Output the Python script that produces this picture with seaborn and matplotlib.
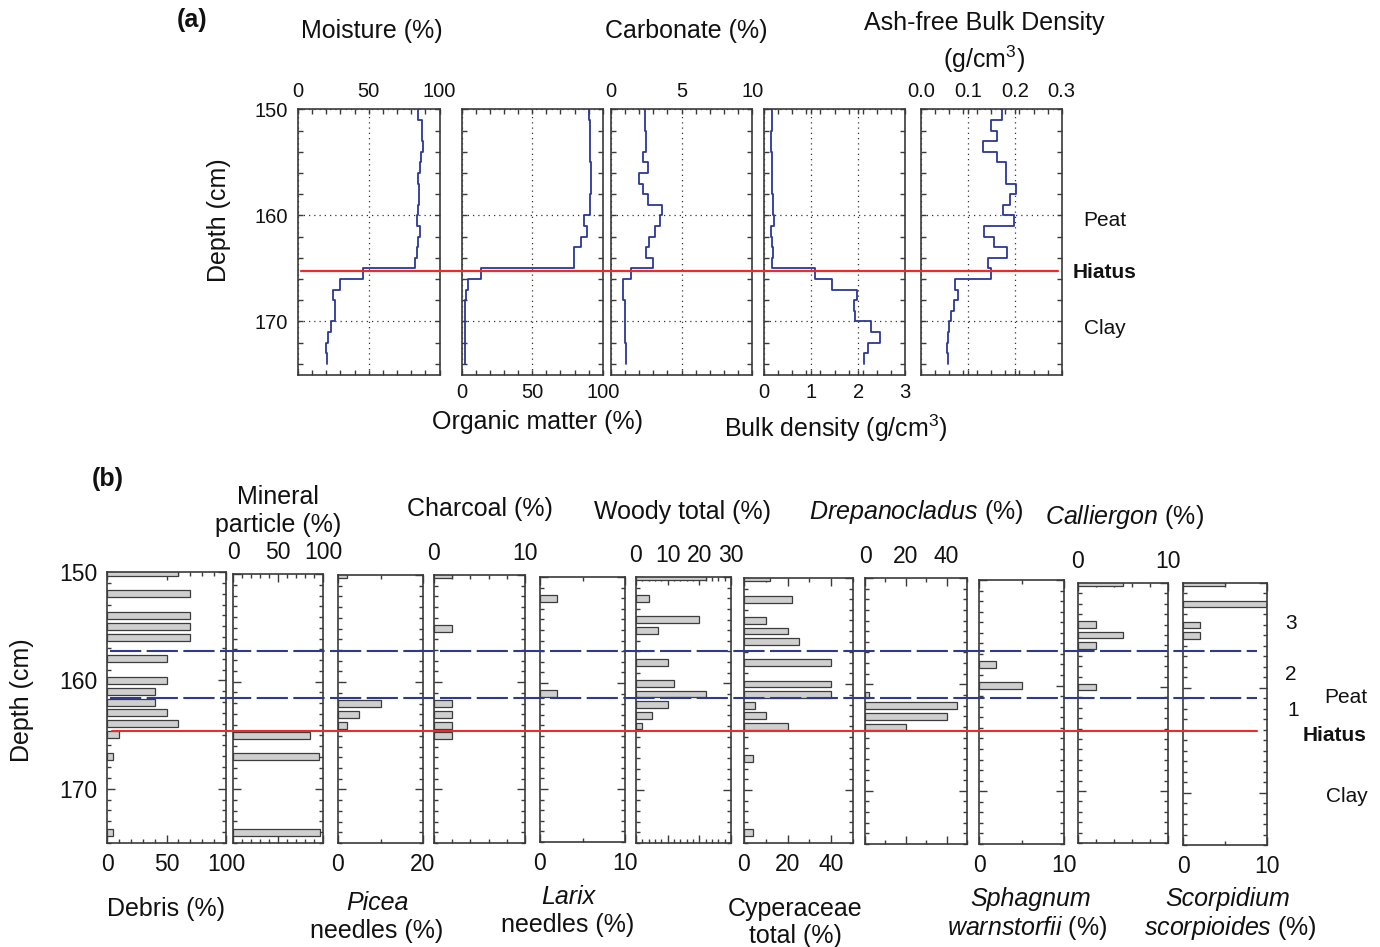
import numpy as np
import matplotlib
matplotlib.use("Agg")
import matplotlib.pyplot as plt
import seaborn as sns
from matplotlib.lines import Line2D
from matplotlib.ticker import FixedLocator, MultipleLocator, FormatStrFormatter

# ---------------- data ----------------
# (a) 1-cm slices, tops at 150..173 cm
depth_top_a = list(range(150, 174))
moisture = [85, 87.5, 87.5, 88, 87, 86.3, 85, 85.6, 85.6, 85, 84, 86.3, 84.6, 84, 82.7,
            45.6, 30, 24.8, 26.5, 26.5, 23, 21.3, 19.6, 20.6]
organic_matter = [90.3, 91, 91, 91, 91, 91.5, 91.5, 91.7, 91, 91, 87, 88.7, 84.4, 79.7, 79.7,
                  13.5, 4.7, 3, 2.4, 2.4, 2, 2, 2, 2]
carbonate = [2.4, 2.4, 2.5, 2.5, 2.3, 2.65, 2.0, 2.3, 2.6, 3.6, 3.5, 3.1, 2.7, 2.5, 3.0,
             1.4, 0.9, 0.9, 1.0, 1.0, 1.0, 1.0, 1.05, 1.1]
bulk_density = [0.18, 0.18, 0.16, 0.16, 0.17, 0.17, 0.18, 0.18, 0.2, 0.2, 0.22, 0.15, 0.17, 0.2, 0.18,
                1.09, 1.44, 1.97, 1.91, 1.93, 2.27, 2.46, 2.22, 2.12]
ash_free_bd = [0.174, 0.149, 0.162, 0.132, 0.162, 0.182, 0.182, 0.203, 0.191, 0.176, 0.199, 0.135,
               0.157, 0.183, 0.144, 0.149, 0.073, 0.080, 0.070, 0.064, 0.061, 0.059, 0.055, 0.059]
hiatus_a = 165.2

# (b) macrofossils, samples at 150..174 cm
depths_b = list(range(150, 175))
def series(d):
    return [d.get(z, 0) for z in depths_b]
debris = series({150: 60, 152: 70, 154: 70, 155: 70, 156: 70, 158: 50, 160: 50, 161: 40,
                 162: 40, 163: 50, 164: 60, 165: 10, 167: 5, 174: 5})
mineral = series({165: 85, 167: 95, 174: 97})
picea = series({150: 2, 162: 10, 163: 5, 164: 2})
charcoal = series({150: 2, 155: 2, 162: 2, 163: 2, 164: 2, 165: 2})
larix = series({152: 2, 161: 2})
woody = series({150: 22, 152: 4, 154: 20, 155: 7, 158: 10, 160: 12, 161: 22, 162: 10, 163: 5, 164: 2})
cyperaceae = series({150: 12, 152: 22, 154: 10, 155: 20, 156: 25, 158: 40, 160: 40, 161: 40,
                     162: 5, 163: 10, 164: 20, 167: 4, 174: 4})
drepanocladus = series({161: 2, 162: 45, 163: 40, 164: 20})
sphagnum = series({158: 2, 160: 5})
calliergon = series({150: 5, 154: 2, 155: 5, 156: 2, 160: 2})
scorpidium = series({150: 5, 152: 10, 154: 2, 155: 2})
zone_bounds_b = [157.3, 161.6]
hiatus_b = 164.7

# ---------------- style ----------------
sns.set_theme(style="white")
plt.rcParams["font.family"] = ["Liberation Sans", "DejaVu Sans"]
plt.rcParams["mathtext.fontset"] = "custom"
plt.rcParams["mathtext.rm"] = "Liberation Sans"
plt.rcParams["mathtext.it"] = "Liberation Sans:italic"
plt.rcParams["mathtext.bf"] = "Liberation Sans:bold"
plt.rcParams["text.color"] = "#111111"
plt.rcParams["xtick.labelcolor"] = "#111111"
plt.rcParams["ytick.labelcolor"] = "#111111"

LINE = "#2B3896"
RED = "#EE2B2B"
DASH = "#2E3A8F"
SPINE = "#3a3a3a"
BARC = "#CFCFCF"
BARE = "#3c3c3c"

W, H = 1380, 947
fig = plt.figure(figsize=(W / 100, H / 100), dpi=100)
fig.patch.set_facecolor("white")


def add_ax(x0, x1, y0, y1):
    return fig.add_axes([x0 / W, 1 - y1 / H, (x1 - x0) / W, (y1 - y0) / H])


def ftext(x, y, s, size=18, ha="center", va="center", **kw):
    fig.text(x / W, 1 - y / H, s, ha=ha, va=va, fontsize=size, **kw)


def frame(ax):
    ax.set_facecolor("white")
    for sp in ax.spines.values():
        sp.set_visible(True)
        sp.set_color(SPINE)
        sp.set_linewidth(1.2)


def step_xy(tops, vals):
    xs, ys = [], []
    for d, v in zip(tops, vals):
        xs += [v, v]
        ys += [d, d + 1]
    return xs, ys


# ---------------- panel (a) ----------------
a_specs = [
    (moisture, (298, 439.5), (0, 100), [0, 50, 100], 10, "top", "%g"),
    (organic_matter, (461.7, 602.7), (0, 100), [0, 50, 100], 10, "bottom", "%g"),
    (carbonate, (610.7, 752.3), (0, 10), [0, 5, 10], 1, "top", "%g"),
    (bulk_density, (763.7, 905.3), (0, 3), [0, 1, 2, 3], 0.3, "bottom", "%g"),
    (ash_free_bd, (920.7, 1061.7), (0, 0.3), [0, 0.1, 0.2, 0.3], 0.03, "top", "%.1f"),
]
axes_a = []
for i, (vals, (x0, x1), xlim, majors, minor, labpos, fmt) in enumerate(a_specs):
    ax = add_ax(x0, x1, 109.3, 374.5)
    frame(ax)
    xs, ys = step_xy(depth_top_a, vals)
    sns.lineplot(x=xs, y=ys, sort=False, estimator=None, ax=ax, color=LINE, lw=1.3)
    ax.set_xlim(*xlim)
    ax.set_ylim(175, 150)
    ax.xaxis.set_major_locator(FixedLocator(majors))
    ax.xaxis.set_minor_locator(FixedLocator(np.arange(xlim[0], xlim[1] + 1e-9, minor)))
    ax.xaxis.set_major_formatter(FormatStrFormatter(fmt))
    ax.yaxis.set_major_locator(FixedLocator([150, 160, 170]))
    ax.yaxis.set_minor_locator(MultipleLocator(2))
    ax.tick_params(which="both", direction="in", top=True, bottom=True, left=True, right=True,
                   color=SPINE, width=1.0, length=3.5, labelsize=14.5, pad=6)
    ax.tick_params(axis="x", labeltop=(labpos == "top"), labelbottom=(labpos == "bottom"))
    ax.tick_params(axis="y", labelleft=(i == 0), labelright=False, pad=7)
    ax.grid(True, which="major", linestyle=(0, (1, 3.2)), color="#333333", lw=0.9)
    ax.set_xlabel("")
    ax.set_ylabel("")
    axes_a.append(ax)

# hiatus line across panel (a)
def hline_fig(ax_ref, depth, x0px, x1px, **kw):
    y = fig.transFigure.inverted().transform(ax_ref.transData.transform((0, depth)))[1]
    fig.add_artist(Line2D([x0px / W, x1px / W], [y, y], transform=fig.transFigure, **kw))

hline_fig(axes_a[0], hiatus_a, 301, 1058, color=RED, lw=1.6, zorder=10)

ftext(177, 20, "(a)", size=18, ha="left", fontweight="bold")
ftext(372, 31, "Moisture (%)")
ftext(686, 31, "Carbonate (%)")
ftext(984, 23, "Ash-free Bulk Density")
ftext(984, 59, r"(g/cm$^{3}$)")
ftext(538, 422, "Organic matter (%)")
ftext(836, 428, r"Bulk density (g/cm$^{3}$)")
ftext(219, 220, "Depth (cm)", rotation=90)
ftext(1105, 220, "Peat", size=15)
ftext(1105, 272, "Hiatus", size=15, fontweight="bold")
ftext(1105, 329, "Clay", size=15)

# ---------------- panel (b) ----------------
b_specs = [
    (debris, (107, 226, 572, 843), 100, [0, 50, 100], 10, "bottom"),
    (mineral, (233, 323, 574, 843), 100, [0, 50, 100], 10, "top"),
    (picea, (338, 423, 575, 843), 20, [0, 20], 10, "bottom"),
    (charcoal, (434, 525, 575, 843), 10, [0, 10], 2, "top"),
    (larix, (540, 625, 577, 842), 10, [0, 10], 5, "bottom"),
    (woody, (636, 731, 577, 843), 30, [0, 10, 20, 30], 2, "top"),
    (cyperaceae, (744, 853, 578, 843), 50, [0, 20, 40], 10, "bottom"),
    (drepanocladus, (865, 967, 578, 844), 50, [0, 20, 40], 10, "top"),
    (sphagnum, (979, 1064, 580, 844), 10, [0, 10], 5, "bottom"),
    (calliergon, (1078, 1168, 583, 843), 10, [0, 10], 2, "top"),
    (scorpidium, (1183, 1267, 583, 845), 10, [0, 10], 5, "bottom"),
]
axes_b = []
for i, (vals, (x0, x1, y0, y1), xmax, majors, minor, labpos) in enumerate(b_specs):
    ax = add_ax(x0, x1, y0, y1)
    frame(ax)
    sns.barplot(x=vals, y=depths_b, orient="h", native_scale=True, width=0.65,
                color=BARC, saturation=1, edgecolor=BARE, linewidth=0.9,
                errorbar=None, ax=ax)
    for p in ax.patches:
        if p.get_width() == 0:
            p.set_visible(False)
    ax.set_xlim(0, xmax)
    ax.set_ylim(175, 150)
    ax.xaxis.set_major_locator(FixedLocator(majors))
    ax.xaxis.set_minor_locator(FixedLocator(np.arange(0, xmax + 1e-9, minor)))
    ax.xaxis.set_major_formatter(FormatStrFormatter("%g"))
    ax.yaxis.set_major_locator(FixedLocator([150, 160, 170]))
    ax.yaxis.set_minor_locator(MultipleLocator(1))
    ax.tick_params(which="both", direction="in", top=True, bottom=True, left=True, right=True,
                   color=SPINE, width=1.0, labelsize=16.5)
    ax.tick_params(which="major", length=6, pad=7)
    ax.tick_params(which="minor", length=3.2)
    ax.tick_params(axis="x", labeltop=(labpos == "top"), labelbottom=(labpos == "bottom"))
    ax.tick_params(axis="y", labelleft=(i == 0), labelright=False, pad=7)
    ax.grid(False)
    ax.set_xlabel("")
    ax.set_ylabel("")
    axes_b.append(ax)

for zb in zone_bounds_b:
    hline_fig(axes_b[0], zb, 110, 1257, color=DASH, lw=1.5, linestyle=(0, (15, 2.6)), zorder=10)
hline_fig(axes_b[0], hiatus_b, 112, 1257, color=RED, lw=1.5, zorder=11)

ftext(92, 479, "(b)", size=18, ha="left", fontweight="bold")
ftext(278, 497, "Mineral")
ftext(278, 525, "particle (%)")
ftext(480, 509, "Charcoal (%)")
ftext(683, 512, "Woody total (%)")
ftext(916, 512, r"$\mathit{Drepanocladus}$ (%)")
ftext(1124, 517, r"$\mathit{Calliergon}$ (%)")
ftext(22, 700, "Depth (cm)", rotation=90)

ftext(166, 909, "Debris (%)")
ftext(377, 903, "Picea", style="italic")
ftext(377, 931, "needles (%)")
ftext(568, 897, "Larix", style="italic")
ftext(568, 925, "needles (%)")
ftext(795, 909, "Cyperaceae")
ftext(795, 936, "total (%)")
ftext(1031, 899, "Sphagnum", style="italic")
ftext(1027, 928, r"$\mathit{warnstorfii}$ (%)")
ftext(1228, 899, "Scorpidium", style="italic")
ftext(1230, 928, r"$\mathit{scorpioides}$ (%)")

ftext(1291, 623, "3", size=15)
ftext(1291, 675, "2", size=15)
ftext(1293, 710, "1", size=15)
ftext(1346, 697, "Peat", size=15)
ftext(1335, 735, "Hiatus", size=15, fontweight="bold")
ftext(1347, 796, "Clay", size=15)

fig.savefig("out.png", dpi=100, facecolor="white")
